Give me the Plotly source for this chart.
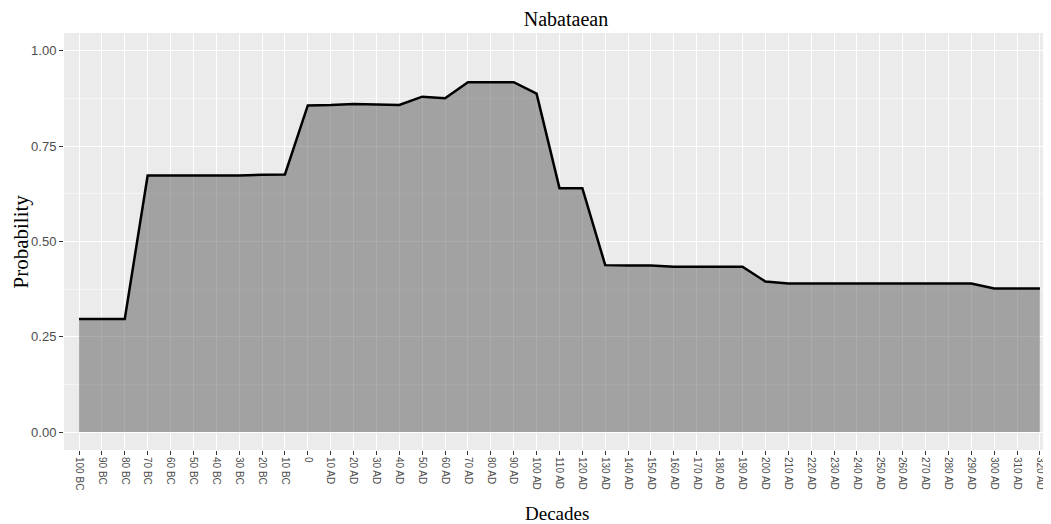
import plotly.graph_objects as go

decades = ["100 BC", "90 BC", "80 BC", "70 BC", "60 BC", "50 BC", "40 BC", "30 BC", "20 BC", "10 BC",
           "0", "10 AD", "20 AD", "30 AD", "40 AD", "50 AD", "60 AD", "70 AD", "80 AD", "90 AD",
           "100 AD", "110 AD", "120 AD", "130 AD", "140 AD", "150 AD", "160 AD", "170 AD", "180 AD",
           "190 AD", "200 AD", "210 AD", "220 AD", "230 AD", "240 AD", "250 AD", "260 AD", "270 AD",
           "280 AD", "290 AD", "300 AD", "310 AD", "320 AD"]
probability = [0.297, 0.297, 0.297, 0.673, 0.673, 0.673, 0.673, 0.673, 0.675, 0.676,
               0.857, 0.858, 0.861, 0.859, 0.858, 0.880, 0.876, 0.918, 0.918, 0.918,
               0.888, 0.640, 0.640, 0.438, 0.437, 0.437, 0.434, 0.434, 0.434,
               0.434, 0.395, 0.390, 0.390, 0.390, 0.390, 0.390, 0.390, 0.390,
               0.390, 0.390, 0.377, 0.377, 0.377]
y_ticks = [0.0, 0.25, 0.5, 0.75, 1.0]
y_ticktext = ["0.00", "0.25", "0.50", "0.75", "1.00"]

fig = go.Figure()
fig.add_trace(go.Scatter(
    x=decades, y=probability, mode="lines", fill="tozeroy",
    fillcolor="rgba(90,90,90,0.5)",
    line=dict(color="black", width=2.5),
    hoverinfo="x+y", showlegend=False,
))

# page body has an 8px default margin: the figure is sized/offset to compensate
fig.update_layout(
    width=1043, height=516,
    margin=dict(l=56, r=1, t=25, b=74),
    paper_bgcolor="white",
    plot_bgcolor="#EBEBEB",
    title=dict(text="Nabataean", x=0.535, xanchor="center", y=0.978, yanchor="middle",
               font=dict(family="Liberation Serif", size=20, color="black")),
    xaxis=dict(
        type="category", categoryorder="array", categoryarray=decades,
        range=[-0.656, 42.44], automargin=False,
        tickangle=90, showgrid=True, gridcolor="white", gridwidth=1.1,
        zeroline=False, ticks="outside", ticklen=4, tickcolor="#333333",
        tickfont=dict(family="Liberation Sans", size=10, color="#4D4D4D"),
    ),
    yaxis=dict(
        range=[-0.047, 1.047], automargin=False,
        tickvals=y_ticks, ticktext=y_ticktext,
        showgrid=True, gridcolor="white", gridwidth=1.1,
        minor=dict(dtick=0.125, tick0=0, showgrid=True, gridcolor="#F5F5F5", gridwidth=0.6),
        zeroline=False, ticks="outside", ticklen=4, tickcolor="#333333",
        tickfont=dict(family="Liberation Sans", size=13, color="#4D4D4D"),
    ),
    annotations=[
        dict(text="Decades", xref="paper", yref="paper", x=0.5, y=0,
             xanchor="center", yanchor="middle", yshift=-63, showarrow=False,
             font=dict(family="Liberation Serif", size=19, color="black")),
        dict(text="Probability", xref="paper", yref="paper", x=0, y=0.5,
             xanchor="center", yanchor="middle", xshift=-44, textangle=-90, showarrow=False,
             font=dict(family="Liberation Serif", size=21, color="black")),
    ],
)

fig.write_html("out.html")
